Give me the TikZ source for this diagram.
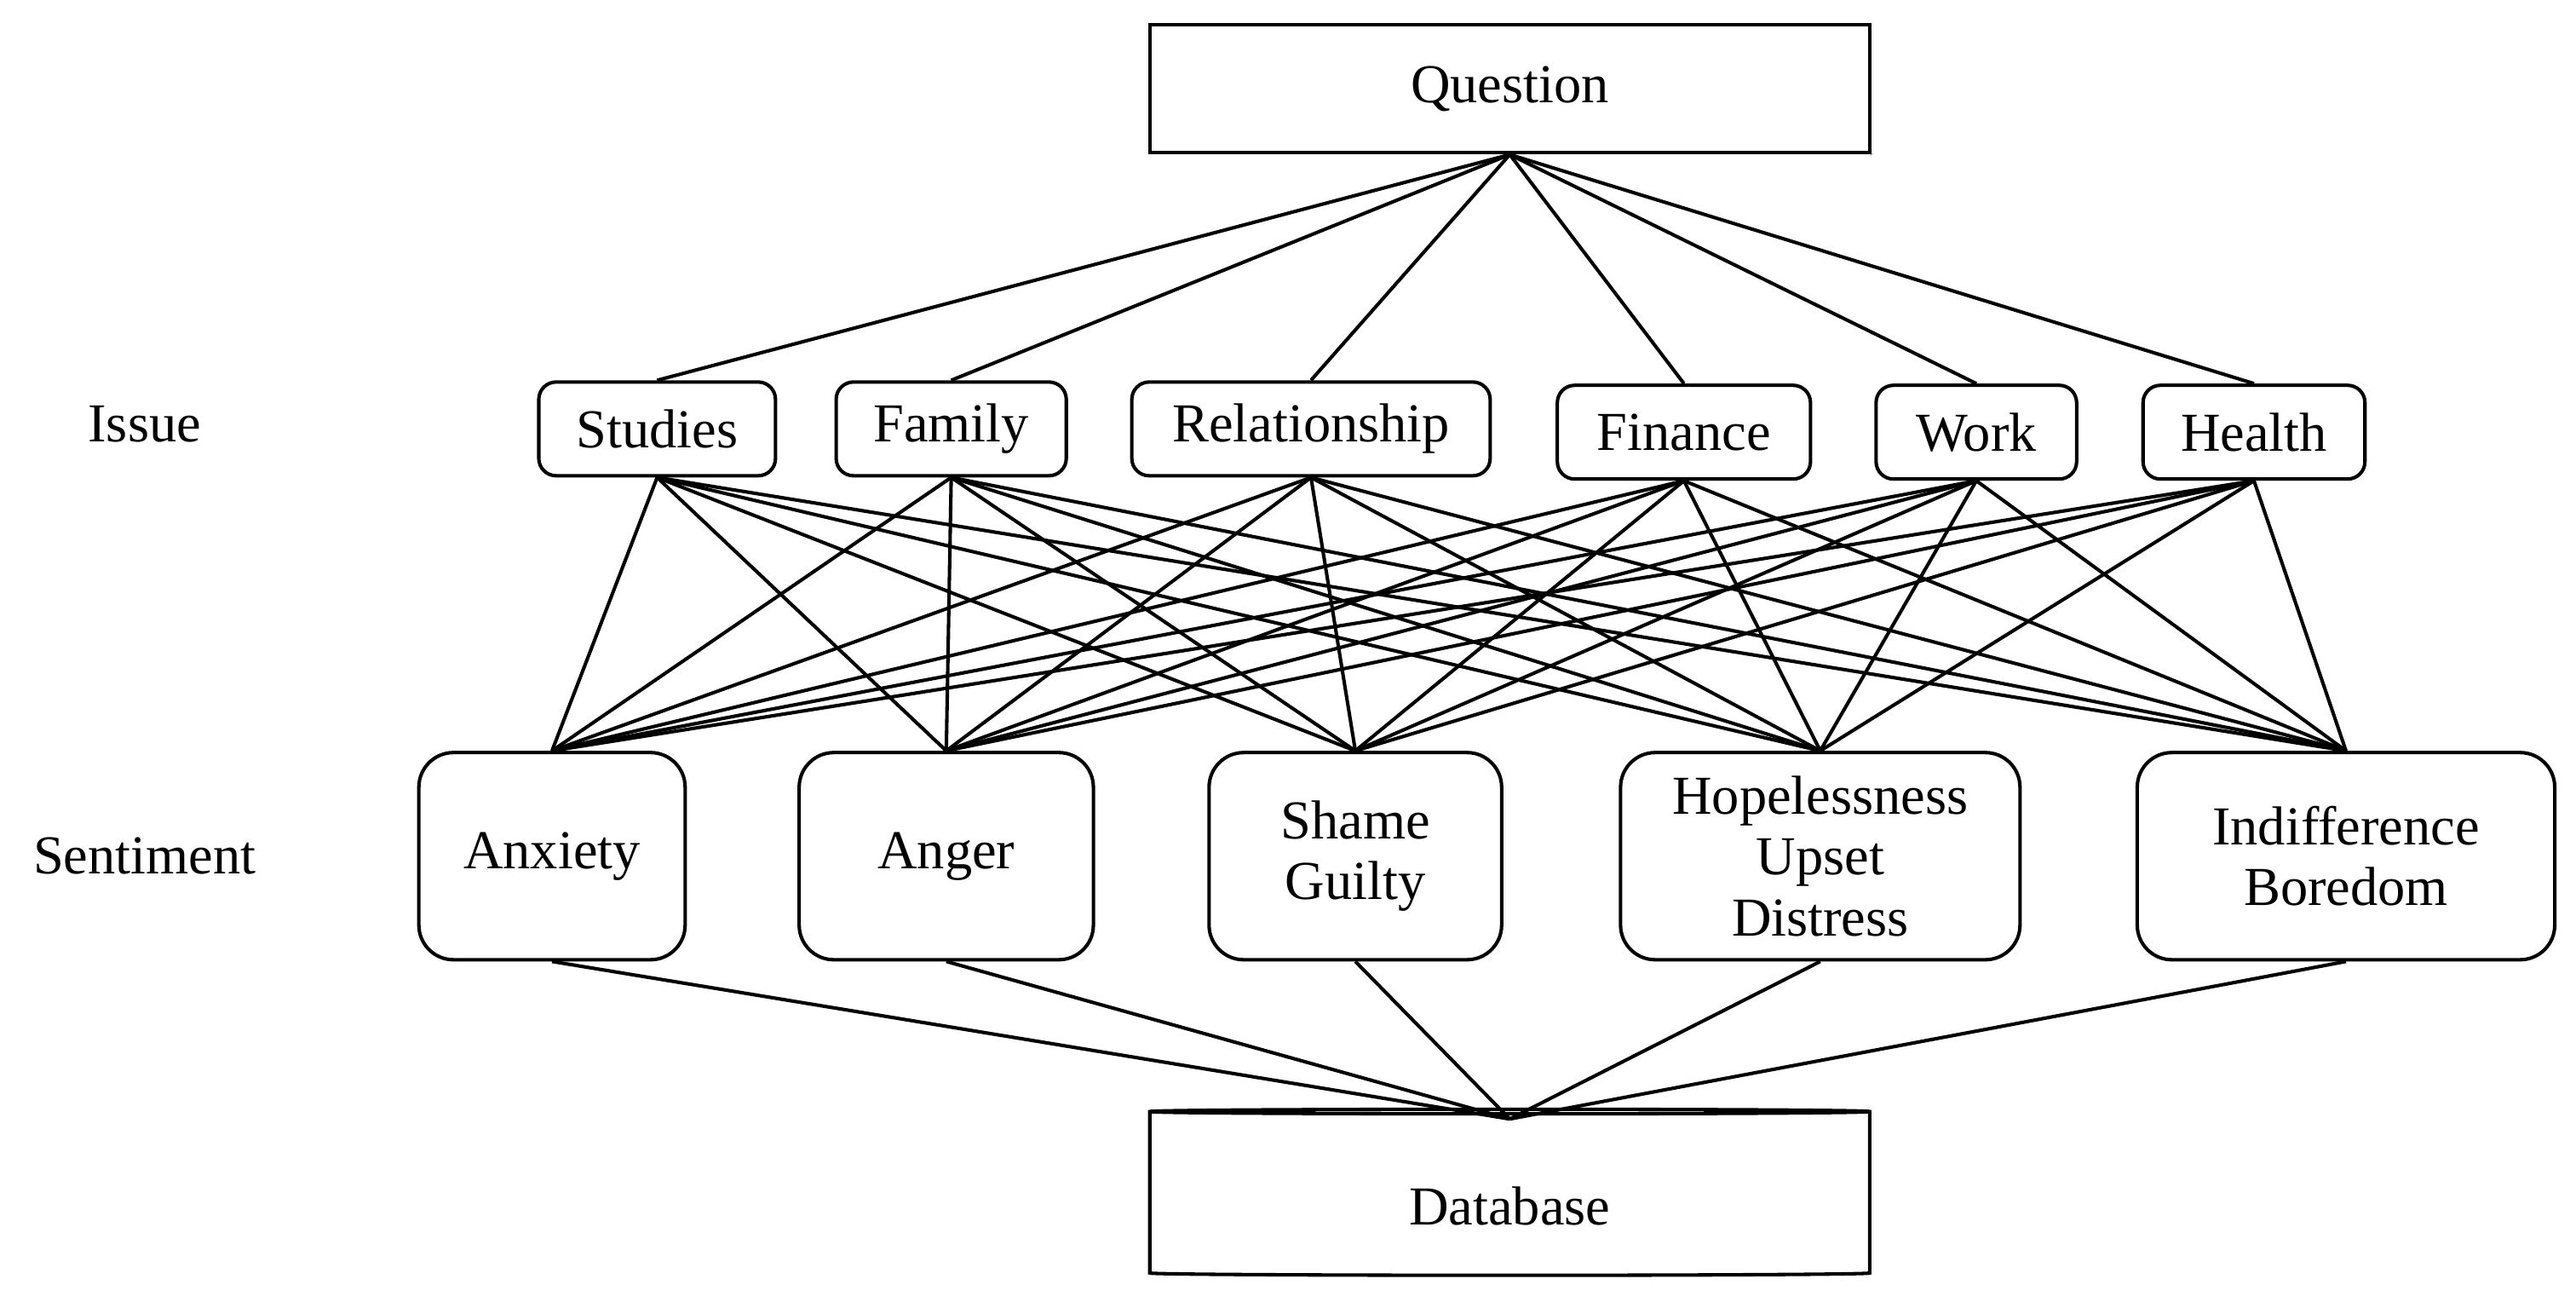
\documentclass[tikz,border=0pt]{standalone}
\usepackage{fontspec}
\setmainfont{Liberation Serif}
\usetikzlibrary{shapes.geometric}
\begin{document}
\begin{tikzpicture}[x=0.01cm,y=-0.01cm,line width=0.6pt,font=\fontsize{9.5}{10.5}\selectfont]
  \tikzstyle{issue}=[draw,rounded corners=3pt,minimum height=0.57cm,inner sep=2pt]
  \tikzstyle{senti}=[draw,rounded corners=6pt,minimum height=1.26cm,align=center,inner sep=1pt]
  \useasboundingbox (0,0) rectangle (1568,792);
  % top
  \node[draw,minimum width=4.38cm,minimum height=0.78cm] (q) at (919,54) {Question};
  \draw (q.south east) ++(0,0.08) -- ++(-0.08,-0.08);
  \node (lissue) at (88,258) {Issue};
  \node (lsenti) at (88,521) {Sentiment};
  % issues
  \node[issue,minimum width=1.44cm] (stu) at (400,261) {Studies};
  \node[issue,minimum width=1.40cm] (fam) at (579,261) {Family};
  \node[issue,minimum width=2.18cm] (rel) at (798,261) {Relationship};
  \node[issue,minimum width=1.54cm] (fin) at (1025,263) {Finance};
  \node[issue,minimum width=1.22cm] (wor) at (1203,263) {Work};
  \node[issue,minimum width=1.35cm] (hea) at (1372,263) {Health};
  % sentiments
  \node[senti,minimum width=1.62cm] (anx) at (336,521) {Anxiety};
  \node[senti,minimum width=1.79cm] (ang) at (576,521) {Anger};
  \node[senti,minimum width=1.78cm] (sha) at (825,521) {Shame\\Guilty};
  \node[senti,minimum width=2.43cm] (hop) at (1108,521) {Hopelessness\\Upset\\Distress};
  \node[senti,minimum width=2.54cm] (ind) at (1428,521) {Indifference\\Boredom};
  % database
  \node[draw,cylinder,shape border rotate=90,aspect=0.12,minimum width=4.38cm,minimum height=1.01cm] (db) at (919,727) {};
  \node (dbtext) at (919,734) {Database};
  \coordinate (dbt) at ([yshift=-0.07cm]db.top);
  % connectors
  \foreach \i in {stu,fam,rel,fin,wor,hea}{
    \draw (q.south) -- (\i.north);
    \foreach \s in {anx,ang,sha,hop,ind}
      \draw (\i.south) -- (\s.north);
  }
  \foreach \s in {anx,ang,sha,hop,ind}
    \draw (\s.south) -- (dbt);
\end{tikzpicture}
\end{document}
